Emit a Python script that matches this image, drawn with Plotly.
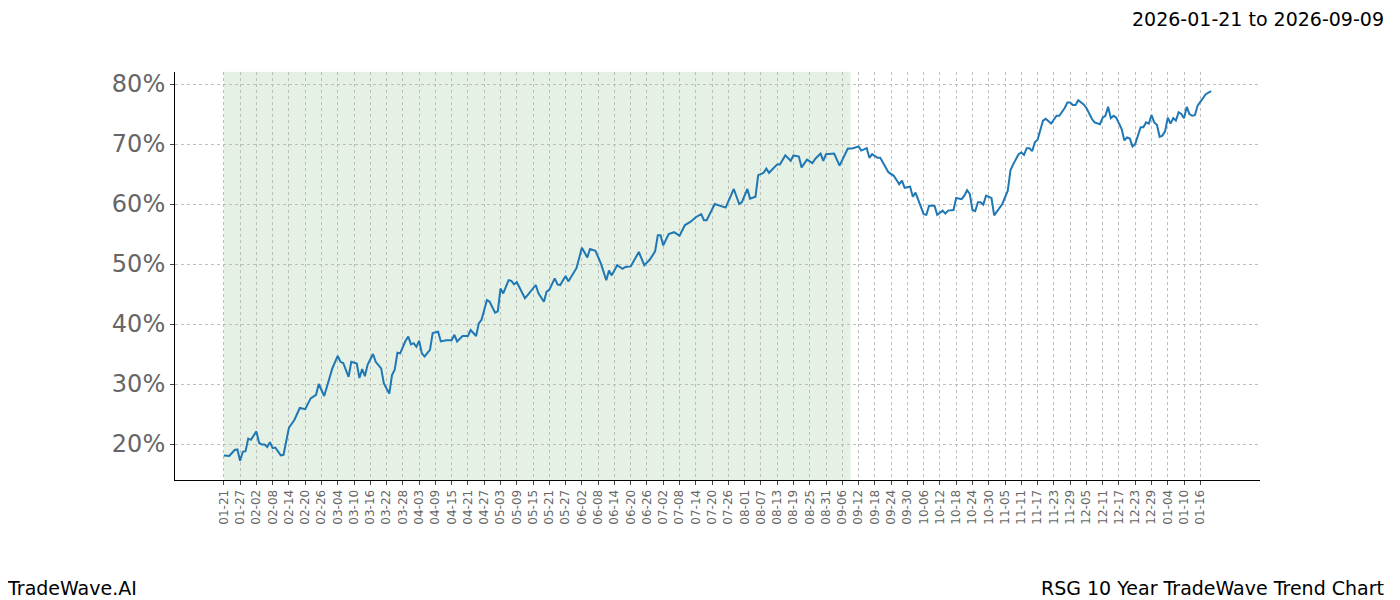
import plotly.graph_objects as go
import pandas as pd

# day offsets from 2026-01-21 and trend values (%)
day_offsets = [0, 2, 4, 5, 6, 7, 8, 9, 10, 12, 13, 14, 15, 16, 17, 18, 19, 21, 22, 24, 26, 28, 30,
               32, 34, 35, 37, 38, 40, 42, 43, 44, 46, 47, 49, 50, 51, 52, 53, 55, 56, 58, 59, 61,
               62, 63, 64, 65, 67, 68, 69, 70, 71, 72, 73, 74, 76, 77, 79, 80, 82, 84, 85, 86, 88,
               90, 91, 93, 94, 95, 97, 98, 100, 101, 102, 103, 105, 106, 107, 108, 111, 112, 115,
               116, 118, 119, 120, 122, 123, 124, 126, 127, 130, 132, 134, 135, 137, 139, 141, 142,
               143, 145, 147, 148, 150, 152, 153, 155, 157, 159, 160, 161, 162, 164, 166, 168, 170,
               172, 174, 176, 177, 178, 180, 181, 185, 187, 188, 190, 191, 193, 194, 196, 197, 199,
               200, 201, 204, 205, 207, 209, 210, 212, 213, 215, 217, 218, 220, 221, 222, 225,
               227, 230, 232, 234, 235, 237, 238, 239, 241, 242, 245, 247, 249, 250, 251, 253, 254,
               255, 256, 258, 259, 260, 262, 263, 265, 266, 267, 269, 270, 272, 273, 274, 275, 276,
               277, 278, 279, 280, 281, 283, 284, 287, 289, 290, 291, 293, 294, 295, 296, 297, 298,
               299, 300, 302, 303, 305, 307, 308, 310, 311, 312, 313, 314, 315, 317, 318, 320, 321,
               323, 324, 325, 326, 327, 328, 329, 331, 332, 333, 334, 335, 336, 337, 338, 339, 340,
               341, 342, 343, 344, 345, 346, 347, 348, 349, 350, 351, 352, 353, 354, 355, 356, 357,
               358, 359, 361, 362, 364]
values = [18.1, 18.0, 19.0, 19.1, 17.2, 18.7, 18.8, 20.9, 20.7, 22.1, 20.2, 19.9, 19.9, 19.5, 20.3,
          19.3, 19.4, 18.1, 18.2, 22.7, 24.0, 26.0, 25.8, 27.6, 28.2, 30.0, 28.0, 29.6, 32.6, 34.7,
          33.7, 33.5, 31.2, 33.7, 33.4, 31.0, 32.5, 31.3, 33.2, 35.0, 33.7, 32.6, 30.1, 28.4, 31.5,
          32.4, 35.2, 35.1, 37.2, 37.9, 36.6, 36.8, 36.2, 37.2, 35.1, 34.6, 35.7, 38.5, 38.7, 37.1,
          37.3, 37.3, 38.2, 37.1, 38.0, 38.0, 39.0, 38.0, 40.1, 40.7, 44.0, 43.7, 41.9, 42.1, 45.9,
          45.1, 47.3, 47.2, 46.6, 47.0, 44.3, 44.8, 46.5, 45.1, 43.7, 45.4, 45.7, 47.6, 46.6, 46.5,
          48.0, 47.1, 49.3, 52.7, 51.1, 52.5, 52.2, 50.1, 47.3, 48.9, 48.1, 49.8, 49.2, 49.5, 49.6,
          51.2, 52.0, 49.8, 50.7, 52.1, 54.8, 54.8, 53.1, 55.0, 55.3, 54.7, 56.5, 57.0, 57.8, 58.3,
          57.3, 57.3, 59.1, 60.0, 59.4, 61.4, 62.5, 60.0, 60.3, 62.5, 60.9, 61.2, 64.8, 65.2, 65.9,
          65.2, 66.6, 66.6, 68.1, 67.2, 68.1, 67.9, 66.1, 67.4, 66.8, 67.5, 68.4, 67.2, 68.3, 68.4,
          66.4, 69.2, 69.3, 69.6, 68.9, 69.3, 67.7, 68.3, 67.7, 67.7, 65.3, 64.7, 63.3, 63.9, 62.7,
          62.9, 61.2, 61.9, 60.6, 58.3, 58.2, 59.7, 59.7, 58.2, 58.9, 58.4, 58.9, 59.0, 61.0, 60.8,
          61.4, 62.3, 61.7, 59.0, 58.8, 60.3, 60.3, 59.9, 61.4, 61.0, 58.1, 60.0, 62.2, 65.6, 66.6,
          68.3, 68.6, 68.2, 69.3, 69.3, 68.8, 70.3, 70.7, 73.9, 74.2, 73.4, 74.7, 74.7, 76.0, 76.9,
          76.9, 76.5, 76.5, 77.3, 76.6, 76.0, 74.2, 73.6, 73.3, 74.4, 74.7, 76.2, 74.3, 74.7, 74.4,
          72.5, 70.6, 71.1, 70.9, 69.6, 70.0, 71.4, 72.8, 72.8, 73.6, 73.4, 74.8, 73.6, 73.2, 71.2,
          71.4, 72.1, 74.4, 73.4, 74.3, 73.9, 75.3, 75.0, 74.3, 76.2, 75.0, 74.7, 74.8, 76.4, 77.8,
          78.3, 78.8]

start = pd.Timestamp("2026-01-21")
dates = start + pd.to_timedelta(day_offsets, unit="D")
shade_start, shade_end = "2026-01-21", "2026-09-09"
tick_dates = pd.date_range("2026-01-21", "2027-01-16", freq="6D")

fig = go.Figure()
fig.add_vrect(x0=shade_start, x1=shade_end, fillcolor="green", opacity=0.1,
              line=dict(width=2, color="rgba(0,0,0,0.1)"), layer="below")
fig.add_trace(go.Scatter(x=dates, y=values, mode="lines",
                         line=dict(color="#1f77b4", width=2)))

fig.update_layout(
    width=1384, height=592, showlegend=False,
    plot_bgcolor="white", paper_bgcolor="white",
    margin=dict(l=167, r=132, t=64, b=120),
    font=dict(family="DejaVu Sans"),
    xaxis=dict(range=[start - pd.Timedelta(days=18), start + pd.Timedelta(days=382)],
               tickvals=tick_dates, ticktext=[d.strftime("%m-%d") for d in tick_dates],
               tickangle=-90, tickfont=dict(size=12, color="#666"),
               showgrid=True, gridcolor="#bdbdbd", griddash="dot", gridwidth=1,
               showline=True, linecolor="black", ticks="outside", ticklen=4),
    yaxis=dict(range=[14, 82], tickvals=[20, 30, 40, 50, 60, 70, 80],
               ticktext=["20%", "30%", "40%", "50%", "60%", "70%", "80%"],
               tickfont=dict(size=24, color="#666"),
               showgrid=True, gridcolor="#bdbdbd", griddash="dot", gridwidth=1,
               zeroline=False, showline=True, linecolor="black", ticks="outside", ticklen=4),
    annotations=[
        dict(text="2026-01-21 to 2026-09-09", xref="paper", yref="paper", x=1.116, y=1.0,
             yshift=53, xanchor="right", yanchor="middle", showarrow=False,
             font=dict(size=19, color="black")),
        dict(text="TradeWave.AI", xref="paper", yref="paper", x=-0.157, y=0, yshift=-108,
             xanchor="left", yanchor="middle", showarrow=False, font=dict(size=19, color="black")),
        dict(text="RSG 10 Year TradeWave Trend Chart", xref="paper", yref="paper", x=1.116,
             y=0, yshift=-108, xanchor="right", yanchor="middle", showarrow=False,
             font=dict(size=19, color="black")),
    ],
)

fig.write_html("out.html")
